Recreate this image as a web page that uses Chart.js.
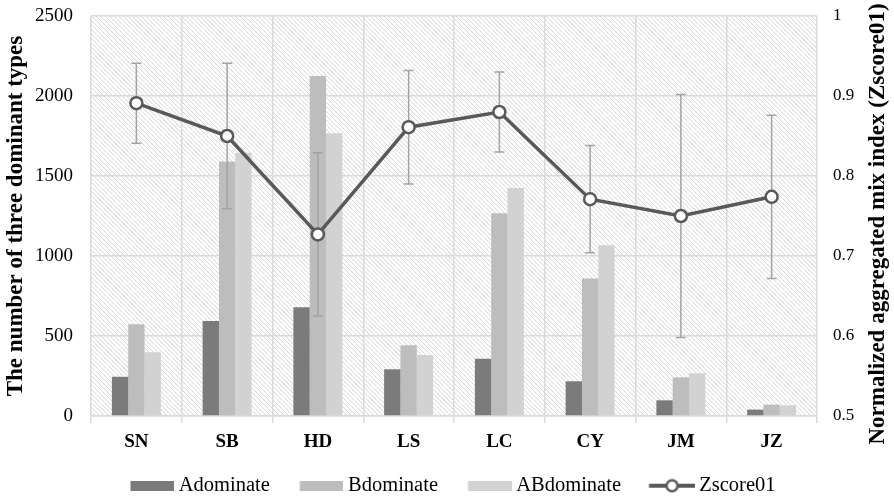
<!DOCTYPE html>
<html><head><meta charset="utf-8">
<script src="https://cdn.jsdelivr.net/npm/chart.js@4.4.1/dist/chart.umd.min.js"></script>
<style>html,body{margin:0;padding:0;background:#fff;overflow:hidden;} #wrap{position:relative;width:894px;height:506px;}</style>
</head><body><div id="wrap"><canvas id="c"></canvas></div>
<script>
const categories = ['SN','SB','HD','LS','LC','CY','JM','JZ'];
const aDominate = [245, 594, 679, 292, 358, 217, 98, 40];
const bDominate = [573, 1590, 2125, 442, 1267, 860, 242, 71];
const abDominate = [398, 1645, 1767, 381, 1425, 1067, 267, 67];
const zscore01 = [0.891, 0.850, 0.727, 0.861, 0.880, 0.771, 0.750, 0.774];
const zscoreErr = [0.050, 0.091, 0.102, 0.071, 0.050, 0.067, 0.152, 0.102];
const leftTickLabels = ['0','500','1000','1500','2000','2500'];
const rightTickLabels = ['0.5','0.6','0.7','0.8','0.9','1'];
const seriesNames = ['Adominate','Bdominate','ABdominate','Zscore01'];
const leftTitle = 'The number of three dominant types';
const rightTitle = 'Normalized aggregated mix index (Zscore01)';

const barColors = ['#7b7b7b','#bdbdbd','#d2d2d2'];
const lineColor = '#595959';
const gridColor = '#dadada';
const FONT = "'Liberation Serif', 'Times New Roman', serif";
const LEG_BW = 50, LEG_OVER = 5.75;

function rectIcon(color){
  const W = LEG_BW + 2*LEG_OVER;
  const c=document.createElement('canvas'); c.width=W; c.height=10;
  const g=c.getContext('2d'); g.fillStyle=color; g.fillRect(W-44,0,44,10); return c;
}
function lineIcon(){
  const W = LEG_BW + 2*LEG_OVER;
  const c=document.createElement('canvas'); c.width=W; c.height=16;
  const g=c.getContext('2d');
  const x0=W-46;
  g.strokeStyle=lineColor; g.lineWidth=4; g.beginPath(); g.moveTo(x0,8); g.lineTo(W,8); g.stroke();
  g.beginPath(); g.arc(x0+23,8,5.5,0,Math.PI*2); g.fillStyle='#fff'; g.fill(); g.lineWidth=2.5; g.stroke();
  return c;
}
const icons=[rectIcon(barColors[0]),rectIcon(barColors[1]),rectIcon(barColors[2]),lineIcon()];

const hatchPlugin={
  id:'hatch',
  beforeDraw(chart){
    const {ctx, chartArea:a}=chart;
    ctx.save();
    ctx.fillStyle='#fff'; ctx.fillRect(0,0,chart.width,chart.height);
    ctx.beginPath(); ctx.rect(a.left,a.top,a.right-a.left,a.bottom-a.top); ctx.clip();
    ctx.strokeStyle='#d6d6d6'; ctx.lineWidth=1;
    const h=a.bottom-a.top;
    ctx.beginPath();
    for(let x=a.left-h; x<a.right; x+=4.5){ ctx.moveTo(x,a.top); ctx.lineTo(x+h,a.bottom); }
    ctx.stroke();
    ctx.restore();
  }
};
const errPlugin={
  id:'errbars',
  beforeDatasetDraw(chart,args){
    if(args.index!==3) return;
    const ctx=chart.ctx, xs=chart.scales.x, ys=chart.scales.y1;
    ctx.save(); ctx.strokeStyle='#a3a3a3'; ctx.lineWidth=1.5;
    zscore01.forEach((v,i)=>{
      const px=xs.getPixelForValue(i);
      const t=ys.getPixelForValue(v+zscoreErr[i]);
      const b=ys.getPixelForValue(v-zscoreErr[i]);
      ctx.beginPath();
      ctx.moveTo(px,t); ctx.lineTo(px,b);
      ctx.moveTo(px-5,t); ctx.lineTo(px+5,t);
      ctx.moveTo(px-5,b); ctx.lineTo(px+5,b);
      ctx.stroke();
    });
    ctx.restore();
  }
};
const rightTitlePlugin={
  id:'rtitle',
  afterDraw(chart){
    const ctx=chart.ctx, a=chart.chartArea;
    ctx.save();
    ctx.translate(878,(a.top+a.bottom)/2+8);
    ctx.rotate(-Math.PI/2);
    ctx.font="bold 23px "+FONT; ctx.fillStyle='#000';
    ctx.textAlign='center'; ctx.textBaseline='middle';
    ctx.fillText(rightTitle,0,0);
    ctx.restore();
  }
};

new Chart(document.getElementById('c'),{
  type:'bar',
  data:{
    labels:categories,
    datasets:[
      {label:seriesNames[0],data:aDominate,backgroundColor:barColors[0],yAxisID:'y',categoryPercentage:0.54,barPercentage:1},
      {label:seriesNames[1],data:bDominate,backgroundColor:barColors[1],yAxisID:'y',categoryPercentage:0.54,barPercentage:1},
      {label:seriesNames[2],data:abDominate,backgroundColor:barColors[2],yAxisID:'y',categoryPercentage:0.54,barPercentage:1},
      {type:'line',label:seriesNames[3],data:zscore01,yAxisID:'y1',order:-1,borderColor:lineColor,borderWidth:3.5,
       pointRadius:6,pointBackgroundColor:'#fff',pointBorderColor:lineColor,pointBorderWidth:2.5,tension:0,fill:false}
    ]
  },
  options:{
    responsive:true,maintainAspectRatio:false,animation:false,devicePixelRatio:1,
    layout:{padding:{top:16,left:0,right:0,bottom:0}},
    plugins:{
      tooltip:{enabled:false},
      legend:{
        position:'bottom',
        labels:{
          usePointStyle:true,pointStyleWidth:LEG_BW,boxHeight:10,padding:18,color:'#000',
          font:{family:FONT,size:20.5},
          generateLabels(chart){
            const items=Chart.defaults.plugins.legend.labels.generateLabels(chart);
            items.sort((a,b)=>a.datasetIndex-b.datasetIndex);
            items.forEach(it=>{it.pointStyle=icons[it.datasetIndex];});
            return items;
          }
        }
      }
    },
    scales:{
      x:{
        grid:{color:gridColor,lineWidth:1.5,tickLength:7,offset:true},
        border:{display:true,color:gridColor,width:1.5},
        ticks:{color:'#000',font:{family:FONT,size:19,weight:'bold'},padding:8},
        afterFit(s){s.height=41.5;}
      },
      y:{
        position:'left',min:0,max:2500,
        grid:{color:gridColor,lineWidth:1.5,drawTicks:true,tickLength:18,tickColor:'rgba(0,0,0,0)'},
        border:{display:false},
        ticks:{stepSize:500,padding:0,color:'#000',font:{family:FONT,size:19},
          callback:(v,i)=>leftTickLabels[i]},
        title:{display:true,text:leftTitle,color:'#000',font:{family:FONT,size:23,weight:'bold'},padding:{top:2,bottom:0}},
        afterFit(s){s.width=91;}
      },
      y1:{
        position:'right',min:0.5,max:1,
        grid:{display:false,drawTicks:true,tickLength:16},
        border:{display:false},
        ticks:{stepSize:0.1,padding:0,color:'#000',font:{family:FONT,size:17},
          callback:(v,i)=>rightTickLabels[i]},
        afterFit(s){s.width=77;}
      }
    }
  },
  plugins:[hatchPlugin,errPlugin,rightTitlePlugin]
});
</script></body></html>
